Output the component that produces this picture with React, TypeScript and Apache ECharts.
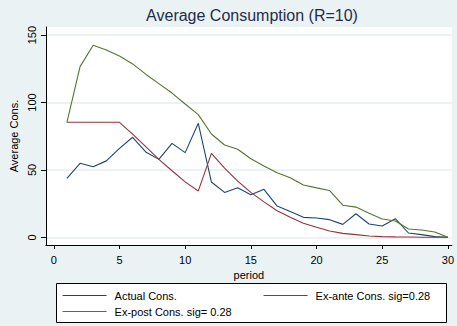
import React, { useEffect, useRef } from "react";
import * as echarts from "echarts";

const periods = [1, 2, 3, 4, 5, 6, 7, 8, 9, 10, 11, 12, 13, 14, 15, 16, 17, 18, 19, 20, 21, 22, 23, 24, 25, 26, 27, 28, 29, 30];
const actualCons = [43.8, 54.9, 52.4, 56.7, 66, 74.2, 63.3, 57.8, 69.7, 62.8, 84.6, 41, 33.3, 36.8, 31.6, 35.6, 23.2, 19.2, 14.8, 14.3, 13.1, 9.6, 17.5, 9.9, 8.4, 13.8, 3.2, 2, 0.5, 0];
const exAnteCons = [85.3, 85.3, 85.3, 85.3, 85.3, 76.6, 67.2, 57.8, 49.4, 41.1, 34.4, 62.3, 51.3, 41.7, 33.3, 26.3, 19.7, 14.8, 10.4, 7.4, 4.7, 2.9, 2, 1, 0.5, 0.3, 0.2, 0.1, 0, 0];
const exPostCons = [85.3, 126.6, 142.4, 139, 134.5, 128.6, 121, 114, 107, 98.9, 91, 76.6, 68.5, 65.3, 58.3, 52.9, 47.9, 44.2, 38.8, 36.7, 34.7, 23.8, 22.4, 17.8, 13.6, 12.1, 6.2, 5.4, 4, 0];
const xTicks = [0, 5, 10, 15, 20, 25, 30];
const yTicks = [0, 50, 100, 150];
const seriesNames = ["Actual Cons.", "Ex-ante Cons. sig=0.28", "Ex-post Cons. sig= 0.28"];
const seriesColors = ["#1a476f", "#90353b", "#55752f"];
const seriesValues = [actualCons, exAnteCons, exPostCons];

export default function App() {
  const ref = useRef<HTMLDivElement>(null);
  useEffect(() => {
    if (!ref.current) return;
    const chart = echarts.init(ref.current, null, { renderer: "svg" });
    const font = "Liberation Sans, Arial, sans-serif";
    const legendPos = [
      { left: 62, top: 290 },
      { left: 263, top: 290 },
      { left: 62, top: 306 },
    ];
    chart.setOption({
      animation: false,
      backgroundColor: "#eaf2f3",
      textStyle: { fontFamily: font },
      title: {
        text: "Average Consumption (R=10)",
        left: 252,
        textAlign: "center",
        top: 7,
        padding: 0,
        textStyle: { fontFamily: font, fontSize: 16, fontWeight: "normal", color: "#1f2d4d" },
      },
      grid: {
        left: 44,
        right: 0,
        top: 27,
        bottom: 81,
        show: true,
        backgroundColor: "#ffffff",
        borderWidth: 0,
      },
      xAxis: {
        type: "value",
        min: -0.6,
        max: 30.3,
        name: "period",
        nameLocation: "middle",
        nameGap: 20,
        nameTextStyle: { fontFamily: font, fontSize: 11, color: "#000" },
        axisLine: { show: true, onZero: false, lineStyle: { color: "#000", width: 1 } },
        axisTick: { show: true, length: 4, customValues: xTicks, lineStyle: { color: "#000" } },
        axisLabel: { customValues: xTicks, margin: 9, fontSize: 11, color: "#000", fontFamily: font },
        splitLine: { show: false },
      },
      yAxis: {
        type: "value",
        min: -5.7,
        max: 156,
        name: "Average Cons.",
        nameLocation: "middle",
        nameRotate: 90,
        nameGap: 26,
        nameTextStyle: { fontFamily: font, fontSize: 11, color: "#000" },
        axisLine: { show: true, onZero: false, lineStyle: { color: "#000", width: 1 } },
        axisTick: { show: true, length: 5, customValues: yTicks, lineStyle: { color: "#000" } },
        axisLabel: { customValues: yTicks, rotate: 90, margin: 8, fontSize: 11, color: "#000", fontFamily: font },
        splitLine: { show: true, lineStyle: { color: "#e6eef0", width: 1.5 } },
      },
      legend: seriesNames.map((n, i) => ({
        data: [{ name: n, lineStyle: { color: seriesColors[i], width: 1.1 }, itemStyle: { color: seriesColors[i], opacity: 0 } }],
        left: legendPos[i].left,
        top: legendPos[i].top,
        padding: 0,
        itemWidth: 44,
        itemHeight: 12,
        itemGap: 0,
        z: 5,
        selectedMode: false,
        itemStyle: { color: seriesColors[i], opacity: 0 },
        lineStyle: { color: seriesColors[i], width: 1.1 },
        textStyle: { fontFamily: font, fontSize: 11, color: "#000", padding: [0, 0, 0, 3] },
      })),
      graphic: [
        {
          type: "rect",
          z: 1,
          shape: { x: 56.5, y: 283.5, width: 390, height: 39 },
          style: { fill: "#ffffff", stroke: "#000000", lineWidth: 1 },
        },
      ],
      series: seriesNames.map((n, i) => ({
        name: n,
        type: "line",
        data: periods.map((p, j) => [p, seriesValues[i][j]]),
        symbol: "none",
        showSymbol: false,
        itemStyle: { color: seriesColors[i] },
        lineStyle: { color: seriesColors[i], width: 1.1 },
      })),
    });
    return () => chart.dispose();
  }, []);
  return (
    <div
      ref={ref}
      style={{ position: "fixed", left: 0, top: 0, width: 457, height: 326 }}
    />
  );
}
